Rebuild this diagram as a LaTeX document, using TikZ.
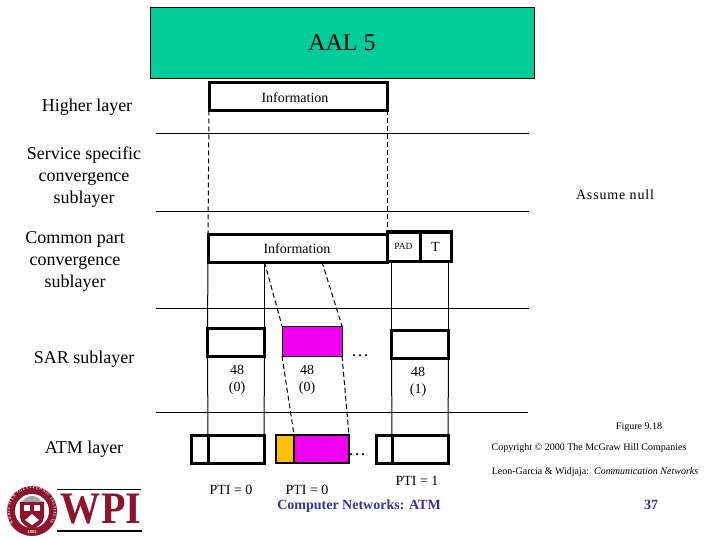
\documentclass[tikz,border=0pt]{standalone}
\usepackage{fontspec}
\usetikzlibrary{decorations.text}
\setmainfont{Liberation Serif}
\definecolor{aalgreen}{RGB}{0,204,153}
\definecolor{cellpink}{RGB}{238,0,238}
\definecolor{hdrorange}{RGB}{255,192,0}
\definecolor{slideblue}{RGB}{51,51,153}
\definecolor{wpired}{RGB}{140,20,45}
\tikzset{
    pdu/.style={draw, line width=3pt, fill=white, inner sep=0pt, outer sep=0pt},
    lbl/.style={font=\fontsize{18}{22}\selectfont, align=center},
    small/.style={font=\fontsize{14}{17}\selectfont, align=center},
    tiny/.style={font=\fontsize{10}{12}\selectfont},
    rule/.style={line width=1pt},
    guide/.style={line width=1pt},
    dguide/.style={line width=1pt, dash pattern=on 5pt off 3pt}
}
\begin{document}
\begin{tikzpicture}[x=1pt, y=-1pt]
    \useasboundingbox (0,0) rectangle (720,540);
    \node[draw, fill=aalgreen, line width=0.8pt, minimum width=384pt, minimum height=71pt, inner sep=0pt, font=\fontsize{24}{28}\selectfont] (aal) at (342,42.5) {\raisebox{-1pt}{AAL 5}};
    % layer rules
    \coordinate (r1a) at (156,134); \coordinate (r1b) at (529,134);
    \coordinate (r2a) at (156,212); \coordinate (r2b) at (529,212);
    \coordinate (r3a) at (156,308); \coordinate (r3b) at (529,308);
    \coordinate (r4a) at (156,412); \coordinate (r4b) at (528,412);
    \draw[rule] (r1a) -- (r1b);
    \draw[rule] (r2a) -- (r2b);
    \draw[rule] (r3a) -- (r3b);
    \draw[rule] (r4a) -- (r4b);
    % PDUs
    \node[pdu, minimum width=178pt, minimum height=28pt] (info) at (298,96.5) {};
    \node[small] (infotxt) at (295,97.5) {Information};
    \node[pdu, minimum width=179pt, minimum height=28pt] (cpcs) at (297.5,248) {};
    \node[small] (cpcstxt) at (297,248.5) {Information};
    \node[pdu, minimum width=33pt, minimum height=29pt, font=\fontsize{9.5}{11}\selectfont] (pad) at (403.5,246.5) {PAD};
    \node[pdu, minimum width=31pt, minimum height=29pt, small] (trailer) at (435.5,246.5) {T};
    % SAR
    \node[pdu, minimum width=57pt, minimum height=28pt] (sara) at (236,342) {};
    \node[draw, line width=1pt, fill=cellpink, minimum width=60pt, minimum height=30pt, inner sep=0pt, outer sep=0pt] (sarb) at (312,341) {};
    \node[pdu, minimum width=57pt, minimum height=28pt] (sarc) at (420,344) {};
    % ATM cells
    \node[pdu, minimum width=17pt, minimum height=28pt] (hdra) at (200,449) {};
    \node[pdu, minimum width=56pt, minimum height=28pt] (cella) at (236,449) {};
    \node[draw, line width=1.5pt, fill=hdrorange, minimum width=18pt, minimum height=28pt, inner sep=0pt, outer sep=0pt] (hdrb) at (285,449) {};
    \node[draw, line width=1.5pt, fill=cellpink, minimum width=55pt, minimum height=28pt, inner sep=0pt, outer sep=0pt] (cellb) at (321.5,449) {};
    \node[pdu, minimum width=16pt, minimum height=28pt] (hdrc) at (384,449) {};
    \node[pdu, minimum width=56pt, minimum height=28pt] (cellc) at (420,449) {};
    % connectors
    \draw[dguide] (info.south west) -- (cpcs.north west);
    \draw[dguide] (info.south east) -- (cpcs.north east);
    \draw[guide] (cpcs.south west) -- (sara.north west);
    \draw[guide] (sara.north east |- cpcs.south) -- (sara.north east);
    \draw[dguide] (sara.north east |- cpcs.south) -- (sarb.north west);
    \coordinate (cpcsm) at (322,262);
    \draw[dguide] (cpcsm) -- (sarb.north east);
    \draw[guide] (sarc.north west |- pad.south) -- (sarc.north west);
    \draw[guide] (sarc.north east |- trailer.south) -- (sarc.north east);
    \draw[guide] (sara.south west) -- (cella.north west);
    \draw[guide] (sara.south east) -- (cella.north east);
    \draw[dguide] (sarb.south west) -- (cellb.north west);
    \draw[dguide] (sarb.south east) -- (cellb.north east);
    \draw[guide] (sarc.south west) -- (cellc.north west);
    \draw[guide] (sarc.south east) -- (cellc.north east);
    % left column
    \node[lbl] (higher) at (87,107.5) {Higher layer};
    \node[lbl] (sscs) at (84,177) {Service specific\\convergence\\sublayer};
    \node[lbl] (cpart) at (75,261) {Common part\\convergence\\sublayer};
    \node[lbl] (sar) at (84,359) {SAR sublayer};
    \node[lbl] (atm) at (84,449) {ATM layer};
    \node[small, font=\fontsize{14}{17}\selectfont\addfontfeature{LetterSpace=6}] (null) at (615,195) {Assume null};
    % cell labels
    \node[small] (la) at (237,380) {48\\(0)};
    \node[small] (lb) at (307,380) {48\\(0)};
    \node[small] (lc) at (418,382) {48\\(1)};
    \node[lbl] (dotsa) at (360,356) {\dots};
    \node[lbl] (dotsb) at (357,455) {\dots};
    \node[small] (ptia) at (231,490) {PTI = 0};
    \node[small] (ptib) at (307,490) {PTI = 0};
    \node[small] (ptic) at (417,481) {PTI = 1};
    % footer
    \node[tiny] (fig) at (639,427) {Figure 9.18};
    \node[tiny] (copy) at (589,448) {Copyright © 2000 The McGraw Hill Companies};
    \node[tiny] (book) at (595,472) {Leon-Garcia \& Widjaja:\ \ \textit{Communication Networks}};
    \node[font=\bfseries\fontsize{14}{17}\selectfont, text=slideblue] (title) at (359,506) {Computer Networks: ATM};
    \node[font=\bfseries\fontsize{14}{17}\selectfont, text=slideblue] (page) at (651,504.5) {37};
    % logo
    \draw[black, line width=1pt] (57,489) -- (141,489);
    \draw[black, line width=1.5pt] (57,531) -- (142,531);
    \fill[wpired] (32,511) circle (25pt);
    \fill[white] (32,511) circle (17pt);
    \fill[black!35] (22,502) .. controls (27,494) and (37,494) .. (42,502) -- cycle;
    \fill[wpired] (20,502) -- (44,502) -- (44,517) .. controls (44,524) and (36,527) .. (32,530) .. controls (28,527) and (20,524) .. (20,517) -- cycle;
    \fill[white] (24,505) rectangle (30,511);
    \fill[white] (34,505) rectangle (40,511);
    \fill[white] (25,520) -- (32,514) -- (39,520) -- (32,525) -- cycle;
    \path[decorate, decoration={text along path, text align=fit to path,
        text={|\fontsize{3.6}{4}\bfseries\color{white}|WORCESTER POLYTECHNIC INSTITUTE}}]
        (13.5,523) arc[start angle=214, end angle=-34, radius=22pt];
    \node[font=\bfseries\fontsize{4.5}{5}\selectfont, text=white, inner sep=0pt] (est) at (32,532) {1865};
    \node[font=\bfseries\fontsize{45}{46}\selectfont, text=wpired, inner sep=0pt, xscale=0.89] (wpi) at (101,509) {WPI};
\end{tikzpicture}
\end{document}
